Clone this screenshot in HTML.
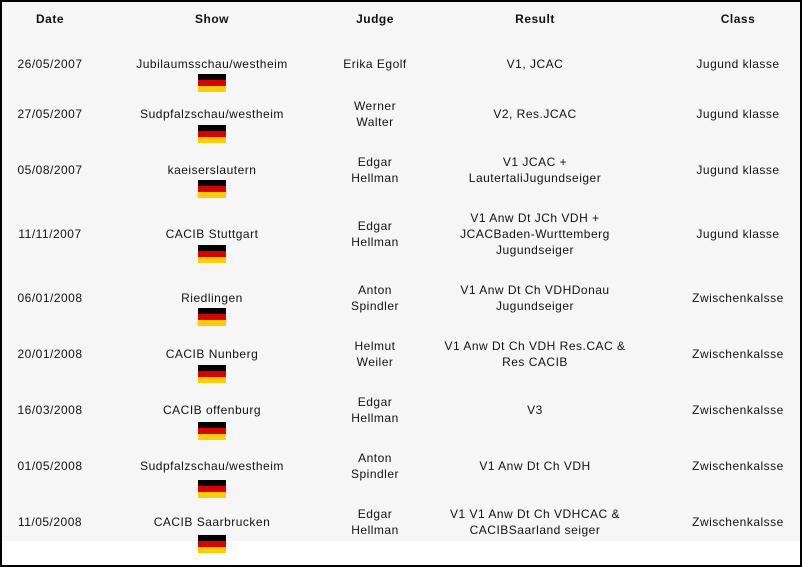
<!DOCTYPE html>
<html><head><meta charset="utf-8"><style>
*{margin:0;padding:0}
body{width:802px;height:567px;background:#fff;position:relative;overflow:hidden;font-family:"Liberation Sans",sans-serif;font-size:12px;color:#111;letter-spacing:0.5px}
.frame{position:absolute;left:0;top:0;width:798px;height:563px;border:2px solid #000}
.bg{position:absolute;left:2px;top:2px;width:798px;height:539px;background:#f6f6f6}
.t{position:absolute;width:240px;text-align:center;line-height:16px;white-space:nowrap}
.h{font-weight:bold}
.f{position:absolute;left:198px;width:28px;height:18px;background:linear-gradient(#000 0 33.3%,#dd0000 33.3% 66.6%,#ffce00 66.6%)}
</style></head><body>
<div class="bg"></div>
<div class="frame"></div>
<div class="t h" style="left:-70px;top:11px">Date</div>
<div class="t h" style="left:92px;top:11px">Show</div>
<div class="t h" style="left:255px;top:11px">Judge</div>
<div class="t h" style="left:415px;top:11px">Result</div>
<div class="t h" style="left:618px;top:11px">Class</div>

<div class="t" style="left:-70px;top:56px">26/05/2007</div>
<div class="t" style="left:92px;top:56px">Jubilaumsschau/westheim</div>
<div class="f" style="top:74px"></div>
<div class="t" style="left:255px;top:56px">Erika Egolf</div>
<div class="t" style="left:415px;top:56px">V1, JCAC</div>
<div class="t" style="left:618px;top:56px">Jugund klasse</div>

<div class="t" style="left:-70px;top:106px">27/05/2007</div>
<div class="t" style="left:92px;top:106px">Sudpfalzschau/westheim</div>
<div class="f" style="top:125px"></div>
<div class="t" style="left:255px;top:98px">Werner<br>Walter</div>
<div class="t" style="left:415px;top:106px">V2, Res.JCAC</div>
<div class="t" style="left:618px;top:106px">Jugund klasse</div>

<div class="t" style="left:-70px;top:162px">05/08/2007</div>
<div class="t" style="left:92px;top:162px">kaeiserslautern</div>
<div class="f" style="top:180px"></div>
<div class="t" style="left:255px;top:154px">Edgar<br>Hellman</div>
<div class="t" style="left:415px;top:154px">V1 JCAC +<br>LautertaliJugundseiger</div>
<div class="t" style="left:618px;top:162px">Jugund klasse</div>

<div class="t" style="left:-70px;top:226px">11/11/2007</div>
<div class="t" style="left:92px;top:226px">CACIB Stuttgart</div>
<div class="f" style="top:245px"></div>
<div class="t" style="left:255px;top:218px">Edgar<br>Hellman</div>
<div class="t" style="left:415px;top:210px">V1 Anw Dt JCh VDH +<br>JCACBaden-Wurttemberg<br>Jugundseiger</div>
<div class="t" style="left:618px;top:226px">Jugund klasse</div>

<div class="t" style="left:-70px;top:290px">06/01/2008</div>
<div class="t" style="left:92px;top:290px">Riedlingen</div>
<div class="f" style="top:308px"></div>
<div class="t" style="left:255px;top:282px">Anton<br>Spindler</div>
<div class="t" style="left:415px;top:282px">V1 Anw Dt Ch VDHDonau<br>Jugundseiger</div>
<div class="t" style="left:618px;top:290px">Zwischenkalsse</div>

<div class="t" style="left:-70px;top:346px">20/01/2008</div>
<div class="t" style="left:92px;top:346px">CACIB Nunberg</div>
<div class="f" style="top:365px"></div>
<div class="t" style="left:255px;top:338px">Helmut<br>Weiler</div>
<div class="t" style="left:415px;top:338px">V1 Anw Dt Ch VDH Res.CAC &amp;<br>Res CACIB</div>
<div class="t" style="left:618px;top:346px">Zwischenkalsse</div>

<div class="t" style="left:-70px;top:402px">16/03/2008</div>
<div class="t" style="left:92px;top:402px">CACIB offenburg</div>
<div class="f" style="top:422px"></div>
<div class="t" style="left:255px;top:394px">Edgar<br>Hellman</div>
<div class="t" style="left:415px;top:402px">V3</div>
<div class="t" style="left:618px;top:402px">Zwischenkalsse</div>

<div class="t" style="left:-70px;top:458px">01/05/2008</div>
<div class="t" style="left:92px;top:458px">Sudpfalzschau/westheim</div>
<div class="f" style="top:480px"></div>
<div class="t" style="left:255px;top:450px">Anton<br>Spindler</div>
<div class="t" style="left:415px;top:458px">V1 Anw Dt Ch VDH</div>
<div class="t" style="left:618px;top:458px">Zwischenkalsse</div>

<div class="t" style="left:-70px;top:514px">11/05/2008</div>
<div class="t" style="left:92px;top:514px">CACIB Saarbrucken</div>
<div class="f" style="top:535px"></div>
<div class="t" style="left:255px;top:506px">Edgar<br>Hellman</div>
<div class="t" style="left:415px;top:506px">V1 V1 Anw Dt Ch VDHCAC &amp;<br>CACIBSaarland seiger</div>
<div class="t" style="left:618px;top:514px">Zwischenkalsse</div>
</body></html>
